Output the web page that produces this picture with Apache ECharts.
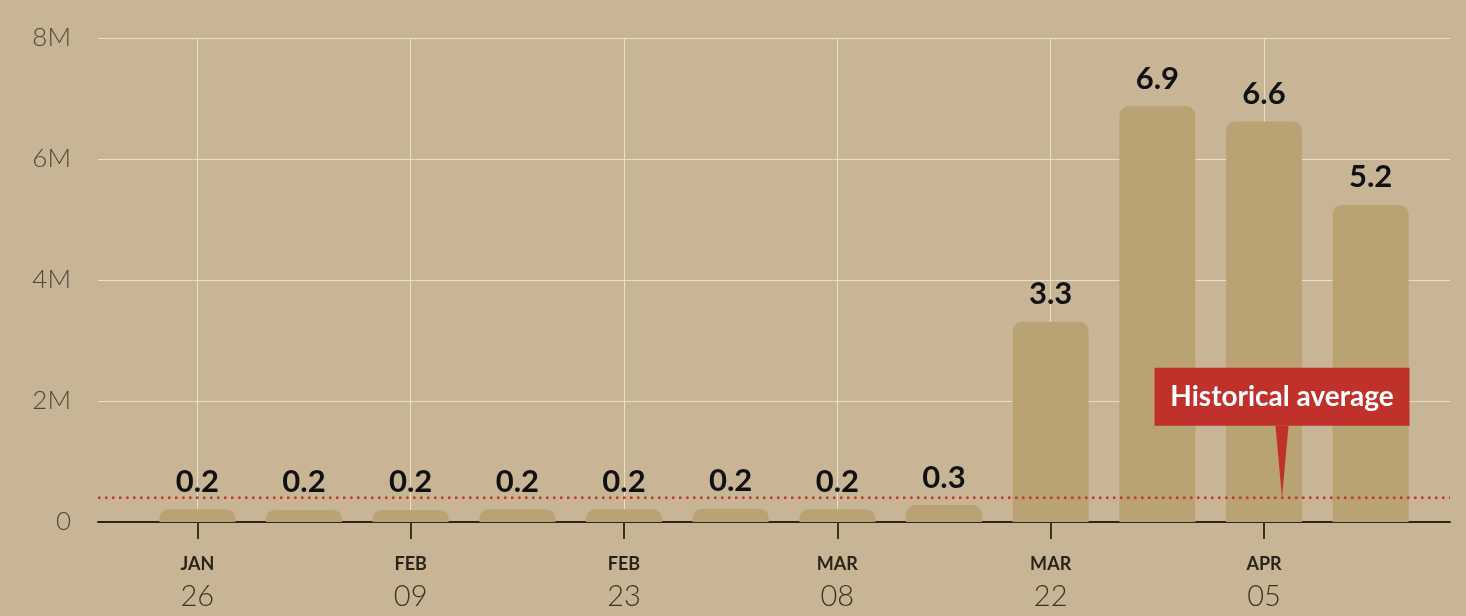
<!DOCTYPE html>
<html>
<head>
<meta charset="utf-8">
<script src="https://cdn.jsdelivr.net/npm/echarts@6/dist/echarts.min.js"></script>
<style>
html,body{margin:0;padding:0;background:#c8b595;}
#chart{width:1466px;height:616px;}
</style>
</head>
<body>
<div id="chart"></div>
<script>
// Weekly values (millions)
const categories = ['JAN 26','FEB 02','FEB 09','FEB 16','FEB 23','MAR 01','MAR 08','MAR 15','MAR 22','MAR 29','APR 05','APR 12'];
const values = [0.21, 0.2, 0.2, 0.21, 0.21, 0.22, 0.21, 0.28, 3.31, 6.87, 6.62, 5.24];
const historicalAverage = 0.4;
const yTicks = [0, 2, 4, 6, 8];
const calloutText = 'Historical average';

const chart = echarts.init(document.getElementById('chart'));
const FONT = 'Lato, "Open Sans", sans-serif';

chart.setOption({
  backgroundColor: '#c8b595',
  animation: false,
  grid: [
    {left: 98, right: 16, top: 38, bottom: 94},
    {left: 144, right: 42, top: 38, bottom: 94}
  ],
  xAxis: [
    {gridIndex: 0, type: 'value', min: 0, max: 1, show: true,
     axisLine: {show: true, onZero: false, lineStyle: {color: '#2e2718', width: 2}},
     axisTick: {show: false}, axisLabel: {show: false}, splitLine: {show: false}},
    {gridIndex: 1, type: 'category', data: categories,
     axisLine: {show: false},
     axisTick: {show: true, interval: 1, alignWithLabel: true, length: 17, lineStyle: {color: '#3a3222', width: 2}},
     splitLine: {show: true, interval: 1, alignWithLabel: true, lineStyle: {color: '#eadfc8', width: 1}},
     axisLabel: {interval: 1, margin: 29,
       formatter: function (v) { const p = v.split(' '); return '{m|' + p[0] + '}\n{d|' + p[1] + '}'; },
       rich: {
         m: {fontFamily: FONT, fontSize: 18, fontWeight: 'bold', color: '#2a2418', lineHeight: 26},
         d: {fontFamily: FONT, fontSize: 29, fontWeight: 300, color: '#3a3426', lineHeight: 40}
       }}}
  ],
  yAxis: [
    {gridIndex: 0, type: 'value', min: 0, max: 8, interval: 2,
     axisLine: {show: false}, axisTick: {show: false},
     splitLine: {show: true, lineStyle: {color: '#eadfc8', width: 1}},
     axisLabel: {margin: 27, fontFamily: FONT, fontSize: 26, fontWeight: 300, color: '#4e483c',
       formatter: function (v) { return v === 0 ? '0' : v + 'M'; }},
     data: yTicks},
    {gridIndex: 1, type: 'value', min: 0, max: 8, interval: 2, show: false}
  ],
  series: [
    {
      type: 'bar', xAxisIndex: 1, yAxisIndex: 1, data: values, barWidth: 76,
      itemStyle: {color: '#b9a273', borderRadius: [9, 9, 0, 0]},
      label: {show: true, position: 'top', distance: 12, fontFamily: FONT, fontSize: 31, fontWeight: 'bold', color: '#111',
        formatter: function (p) { return p.value.toFixed(1); }},
      z: 2,
      markPoint: {
        silent: true,
        data: [{
          coord: ['APR 05', historicalAverage],
          symbol: 'path://M0,0 L10,0 L5,70 Z',
          symbolSize: [13, 72],
          symbolOffset: [18, -36],
          itemStyle: {color: '#c1312b'},
          label: {show: true, position: 'top', distance: 0, formatter: calloutText,
            backgroundColor: '#c1312b', color: '#fff', fontFamily: FONT, fontSize: 28, fontWeight: 'bold',
            padding: [14, 10, 14, 10], width: 235, lineHeight: 30, align: 'center'}
        }]
      }
    },
    {
      type: 'line', xAxisIndex: 0, yAxisIndex: 0,
      data: [[0, historicalAverage], [1, historicalAverage]],
      symbol: 'none', silent: true, z: 3,
      lineStyle: {color: '#c8352b', width: 2.5, type: [2.5, 4.5]}
    }
  ]
});
</script>
</body>
</html>
